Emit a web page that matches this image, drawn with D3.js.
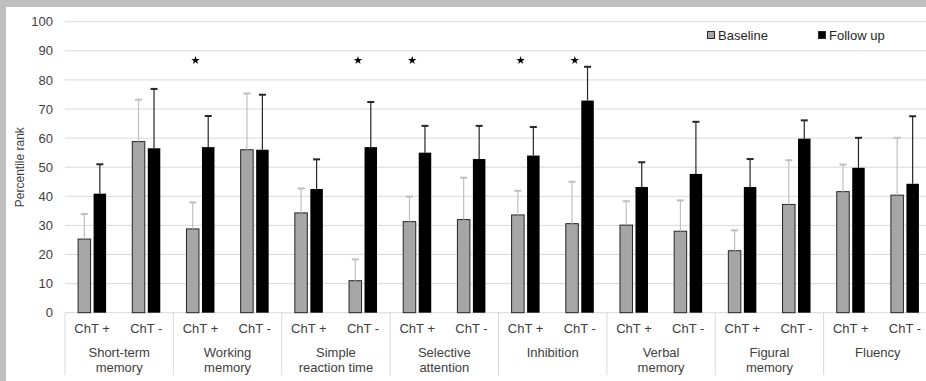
<!DOCTYPE html>
<html>
<head>
<meta charset="utf-8">
<script src="https://cdn.jsdelivr.net/npm/d3@7"></script>
<style>
  body { margin: 0; background: #bfbfbf; }
  svg { display: block; font-family: "Liberation Sans", Arial, sans-serif; }
</style>
</head>
<body>
<svg width="926" height="381"></svg>
<script>
// values (percentile rank, mean and upper end of SD bar)
var groups = ["Short-term\nmemory", "Working\nmemory", "Simple\nreaction time", "Selective\nattention",
  "Inhibition", "Verbal\nmemory", "Figural\nmemory", "Fluency"];
var subgroups = ["ChT +", "ChT -"];
var baseline = [25.3, 58.8, 28.8, 56.0, 34.3, 11.0, 31.3, 32.0, 33.6, 30.6, 30.1, 28.0, 21.3, 37.2, 41.6, 40.4];
var baselineTop = [33.9, 73.2, 37.9, 75.3, 42.7, 18.3, 39.9, 46.4, 41.9, 45.0, 38.3, 38.6, 28.3, 52.4, 50.9, 60.1];
var followUp = [40.9, 56.5, 56.9, 56.0, 42.5, 56.9, 55.0, 52.8, 54.0, 72.9, 43.2, 47.7, 43.2, 59.8, 49.8, 44.3];
var followTop = [51.0, 76.9, 67.6, 74.9, 52.7, 72.4, 64.2, 64.2, 63.8, 84.5, 51.7, 65.6, 52.8, 66.1, 60.1, 67.5];
var significant = [0, 0, 1, 0, 0, 1, 1, 0, 1, 1, 0, 0, 0, 0, 0, 0];
var yTicks = [0, 10, 20, 30, 40, 50, 60, 70, 80, 90, 100];
var seriesNames = ["Baseline", "Follow up"];

var svg = d3.select("svg");

// white panel with grey frame on top/left
svg.append("rect").attr("x", 6).attr("y", 7).attr("width", 926).attr("height", 381).attr("fill", "#fff");

var plotLeft = 65, plotRight = 932, plotTop = 21.7, plotBottom = 312.7;

var keys = [];
groups.forEach(function (g, i) {
  subgroups.forEach(function (s) { keys.push(i + "|" + s); });
});

var x = d3.scaleBand().domain(keys).range([plotLeft, plotRight]);
var xGroup = d3.scaleBand().domain(d3.range(groups.length)).range([plotLeft, plotRight]);
var y = d3.scaleLinear().domain([0, 100]).range([plotBottom, plotTop]);

// gridlines
svg.append("g")
  .selectAll("line")
  .data(yTicks.slice(1))
  .enter()
  .append("line")
  .attr("x1", plotLeft).attr("x2", plotRight)
  .attr("y1", function (d) { return y(d); })
  .attr("y2", function (d) { return y(d); })
  .attr("stroke", "#d9d9d9")
  .attr("stroke-width", 1);

// y axis labels
var yAxis = svg.append("g")
  .attr("transform", "translate(" + plotLeft + ",0)")
  .call(d3.axisLeft(y).tickValues(yTicks).tickSize(0).tickPadding(12));
yAxis.select(".domain").remove();
yAxis.selectAll("text").attr("font-size", 13).attr("fill", "#404040")
  .attr("font-family", "Liberation Sans, Arial, sans-serif");

svg.append("text")
  .attr("transform", "translate(24," + ((plotTop + plotBottom) / 2) + ") rotate(-90)")
  .attr("text-anchor", "middle")
  .attr("font-size", 12)
  .attr("fill", "#404040")
  .text("Percentile rank");

// x axis line + separators
svg.append("line")
  .attr("x1", plotLeft).attr("x2", plotRight)
  .attr("y1", y(0)).attr("y2", y(0))
  .attr("stroke", "#d9d9d9");

svg.append("g")
  .selectAll("line")
  .data(d3.range(groups.length + 1))
  .enter()
  .append("line")
  .attr("x1", function (d) { return plotLeft + d * xGroup.bandwidth(); })
  .attr("x2", function (d) { return plotLeft + d * xGroup.bandwidth(); })
  .attr("y1", y(0)).attr("y2", 375)
  .attr("stroke", "#d9d9d9");

var barW = 12.5, gap = 3;

// baseline bars
svg.append("g")
  .selectAll("rect")
  .data(baseline)
  .enter()
  .append("rect")
  .attr("x", function (d, i) { return x(keys[i]) + x.bandwidth() / 2 - gap / 2 - barW; })
  .attr("y", function (d) { return y(d); })
  .attr("width", barW)
  .attr("height", function (d) { return y(0) - y(d); })
  .attr("fill", "#a6a6a6")
  .attr("stroke", "#262626")
  .attr("stroke-width", 1);

// follow up bars
svg.append("g")
  .selectAll("rect")
  .data(followUp)
  .enter()
  .append("rect")
  .attr("x", function (d, i) { return x(keys[i]) + x.bandwidth() / 2 + gap / 2; })
  .attr("y", function (d) { return y(d); })
  .attr("width", barW)
  .attr("height", function (d) { return y(0) - y(d); })
  .attr("fill", "#000");

// error bars
function errorBars(tops, vals, offset, color) {
  var g = svg.append("g").attr("stroke", color).attr("stroke-width", 1.2);
  tops.forEach(function (t, i) {
    var cx = x(keys[i]) + x.bandwidth() / 2 + offset;
    g.append("line").attr("x1", cx).attr("x2", cx).attr("y1", y(vals[i])).attr("y2", y(t));
    g.append("line").attr("x1", cx - 3.5).attr("x2", cx + 3.5).attr("y1", y(t)).attr("y2", y(t))
      .attr("stroke-width", 2);
  });
}
errorBars(baselineTop, baseline, -gap / 2 - barW / 2, "#bfbfbf");
errorBars(followTop, followUp, gap / 2 + barW / 2, "#262626");

// significance stars
svg.append("g")
  .selectAll("path")
  .data(significant.map(function (s, i) { return { s: s, i: i }; }).filter(function (d) { return d.s; }))
  .enter()
  .append("path")
  .attr("d", d3.symbol().type(d3.symbolStar).size(22))
  .attr("transform", function (d) {
    return "translate(" + (x(keys[d.i]) + x.bandwidth() / 2 - 5) + "," + y(86.7) + ")";
  })
  .attr("fill", "#000");

// sub category labels
svg.append("g")
  .selectAll("text")
  .data(keys)
  .enter()
  .append("text")
  .attr("x", function (d) { return x(d) + x.bandwidth() / 2; })
  .attr("y", 333)
  .attr("text-anchor", "middle")
  .attr("font-size", 13)
  .attr("fill", "#404040")
  .text(function (d) { return d.split("|")[1]; });

// group labels
var gl = svg.append("g")
  .selectAll("text")
  .data(groups)
  .enter()
  .append("text")
  .attr("text-anchor", "middle")
  .attr("font-size", 13)
  .attr("fill", "#404040")
  .attr("x", function (d, i) { return xGroup(i) + xGroup.bandwidth() / 2; })
  .attr("y", 357);
gl.selectAll("tspan")
  .data(function (d) { return d.split("\n"); })
  .enter()
  .append("tspan")
  .attr("x", function () { return d3.select(this.parentNode).attr("x"); })
  .attr("dy", function (d, j) { return j === 0 ? 0 : 15; })
  .text(function (d) { return d; });

// legend
var legend = svg.append("g");
var legendX = [711, 822];
seriesNames.forEach(function (name, i) {
  legend.append("rect")
    .attr("x", legendX[i] - 3.5).attr("y", 31.5)
    .attr("width", 7).attr("height", 7)
    .attr("fill", i === 0 ? "#a6a6a6" : "#000")
    .attr("stroke", "#262626").attr("stroke-width", 1);
  legend.append("text")
    .attr("x", legendX[i] + 7).attr("y", 39.5)
    .attr("font-size", 13)
    .attr("fill", "#262626")
    .text(name);
});
</script>
</body>
</html>
